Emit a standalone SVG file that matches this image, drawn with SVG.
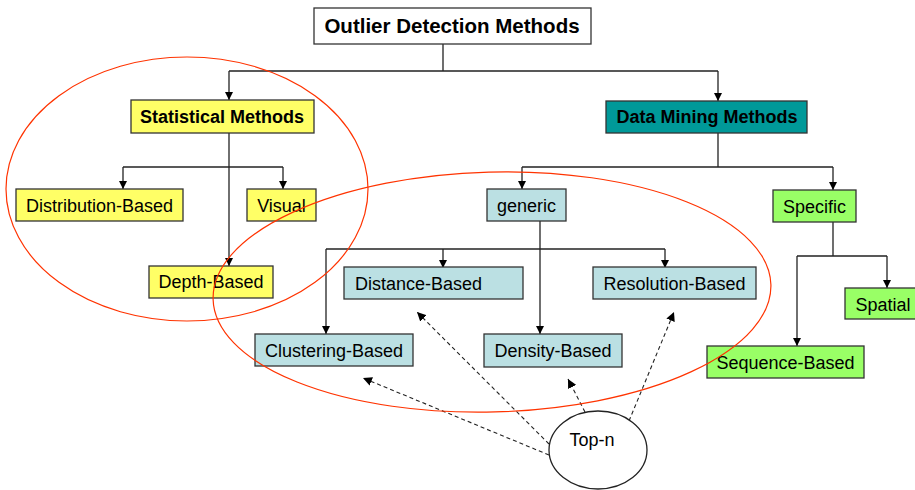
<svg xmlns="http://www.w3.org/2000/svg" width="915" height="490" viewBox="0 0 915 490">
<defs>
<marker id="ah" viewBox="0 0 10 10" refX="10" refY="5" markerWidth="8" markerHeight="8" markerUnits="userSpaceOnUse" orient="auto"><path d="M0,0 L10,5 L0,10 z" fill="#000"/></marker>
<marker id="ahd" viewBox="0 0 10 10" refX="10" refY="5" markerWidth="9" markerHeight="9" markerUnits="userSpaceOnUse" orient="auto"><path d="M0,0 L10,5 L0,10 z" fill="#000"/></marker>
<style>
text{font-family:"Liberation Sans",Arial,sans-serif;font-size:18px;fill:#000;text-anchor:middle}
.b{font-weight:bold}
.box{stroke:#333;stroke-width:1.3}
.yel{fill:#FFFF66}
.teal{fill:#009999}
.lb{fill:#BBE0E3}
.gr{fill:#99FF66}
.ln{fill:none;stroke:#222;stroke-width:1.3}
.dash{fill:none;stroke:#222;stroke-width:1.1;stroke-dasharray:4 3}
.red{fill:none;stroke:#FF3300;stroke-width:1.2}
</style>
</defs>
<rect width="915" height="490" fill="#fff"/>

<g id="connectors">
<path class="ln" d="M443,44 V71 M229,71 H718"/>
<path class="ln" d="M229,71 V100" marker-end="url(#ah)"/>
<path class="ln" d="M718,71 V101" marker-end="url(#ah)"/>
<path class="ln" d="M229,133 V266" marker-end="url(#ah)"/>
<path class="ln" d="M123,167 H283"/>
<path class="ln" d="M123,167 V189" marker-end="url(#ah)"/>
<path class="ln" d="M283,167 V189" marker-end="url(#ah)"/>
<path class="ln" d="M718,133 V167 M522,167 H833"/>
<path class="ln" d="M522,167 V189" marker-end="url(#ah)"/>
<path class="ln" d="M833,167 V190" marker-end="url(#ah)"/>
<path class="ln" d="M540,221 V334" marker-end="url(#ah)"/>
<path class="ln" d="M326,249 H665"/>
<path class="ln" d="M326,249 V334" marker-end="url(#ah)"/>
<path class="ln" d="M443,249 V268" marker-end="url(#ah)"/>
<path class="ln" d="M665,249 V268" marker-end="url(#ah)"/>
<path class="ln" d="M833,222 V256 M797,256 H887"/>
<path class="ln" d="M887,256 V288" marker-end="url(#ah)"/>
<path class="ln" d="M797,256 V346" marker-end="url(#ah)"/>
<path class="dash" d="M549,455 L363,378" marker-end="url(#ahd)"/>
<path class="dash" d="M549,444 L417,312" marker-end="url(#ahd)"/>
<path class="dash" d="M585,412 L568,379" marker-end="url(#ahd)"/>
<path class="dash" d="M629,421 L674,312" marker-end="url(#ahd)"/>
</g>

<g id="title"><rect x="314" y="8" width="277" height="36" fill="#fff" stroke="#333" stroke-width="1.3"/><text class="b" x="452" y="33" style="font-size:20.5px">Outlier Detection Methods</text></g>
<g id="statistical"><rect class="box yel" x="131" y="100" width="183" height="33"/><text class="b" x="222" y="123">Statistical Methods</text></g>
<g id="datamining"><rect class="box teal" x="606" y="101" width="201" height="32"/><text class="b" x="707" y="123">Data Mining Methods</text></g>
<g id="distribution"><rect class="box yel" x="16" y="189" width="167" height="32"/><text x="99.5" y="212">Distribution-Based</text></g>
<g id="visual"><rect class="box yel" x="247" y="189" width="69" height="32"/><text x="281.5" y="212">Visual</text></g>
<g id="depth"><rect class="box yel" x="149" y="266" width="124" height="32"/><text x="211" y="288">Depth-Based</text></g>
<g id="generic"><rect class="box lb" x="487" y="189" width="79" height="32"/><text x="526.5" y="212">generic</text></g>
<g id="specific"><rect class="box gr" x="773" y="190" width="83" height="32"/><text x="814.5" y="213">Specific</text></g>
<g id="distance"><rect class="box lb" x="344" y="267" width="179" height="32"/><text x="355" y="290" style="text-anchor:start">Distance-Based</text></g>
<g id="resolution"><rect class="box lb" x="593" y="267" width="163" height="32"/><text x="674.5" y="290">Resolution-Based</text></g>
<g id="clustering"><rect class="box lb" x="255" y="334" width="158" height="32"/><text x="334" y="357">Clustering-Based</text></g>
<g id="density"><rect class="box lb" x="484" y="334" width="138" height="33"/><text x="553" y="357">Density-Based</text></g>
<g id="spatial"><rect class="box gr" x="845" y="288" width="76" height="31"/><text x="883" y="311">Spatial</text></g>
<g id="sequence"><rect class="box gr" x="707" y="346" width="157" height="32"/><text x="785.5" y="369">Sequence-Based</text></g>
<g id="topn"><ellipse cx="598" cy="450" rx="49" ry="39" fill="#fff" stroke="#222" stroke-width="1.3"/><text x="592" y="446">Top-n</text></g>

<g id="groups">
<ellipse class="red" cx="187" cy="189" rx="181" ry="132"/>
<ellipse class="red" cx="492" cy="292" rx="279" ry="120" transform="rotate(-1.5 492 292)"/>
</g>
</svg>
